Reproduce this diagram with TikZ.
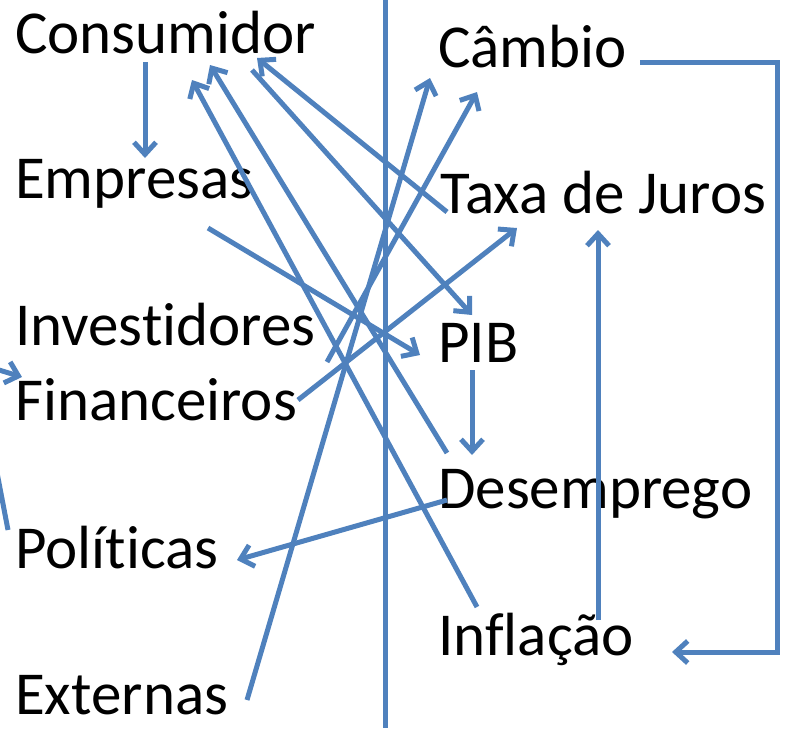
\documentclass[tikz,border=0pt]{standalone}
\usepackage{fontspec}
\setmainfont[Ligatures=NoCommon]{Carlito}
\usepackage{xcolor}
\usepackage{tikz}
\usetikzlibrary{positioning}
\usetikzlibrary{arrows.meta}
\definecolor{linkblue}{RGB}{79,129,189}
\tikzset{edge/.style = {-{Straight Barb[length=12pt,width=22pt]}, linkblue, line width=5pt}}

\begin{document}
\begin{tikzpicture}[x=1pt,y=-1pt,main node/.style={inner sep=0pt,anchor=base west,font=\fontsize{61}{72}\selectfont}]
            \useasboundingbox (0,0) rectangle (789,728);
            \node[main node] (1) at (15,53) {Consumidor};
            \node[main node] (2) at (15,198) {Empresas};
            \node[main node] (3) at (15,345) {Investidores};
            \node[main node] (4) at (15,420) {Financeiros};
            \node[main node] (5) at (15,568) {Políticas};
            \node[main node] (6) at (15,714) {Externas};
            \node[main node] (7) at (438,67) {Câmbio};
            \node[main node] (8) at (440,213) {Taxa de Juros};
            \node[main node] (9) at (438,362) {PIB};
            \node[main node] (10) at (438,508) {Desemprego};
            \node[main node] (11) at (438,655) {Inflação};

            % divisoria
            \coordinate (top) at (385,0);
            \coordinate (bottom) at (385,728);
            \draw[linkblue, line width=5pt] (top) -- (bottom);

            \path[edge] ([shift={(130,9)}]1.base west) edge ([shift={(130,-40)}]2.base west);
            \path[edge] ([shift={(193,30)}]2.base west) edge ([shift={(-18,-7)}]9.base west);
            \path[edge] ([shift={(7,-1)}]8.base west) edge ([shift={(242,5)}]1.base west);
            \path[edge] ([shift={(9,-55)}]10.base west) edge ([shift={(195,12)}]1.base west);
            \path[edge] ([shift={(39,-48)}]11.base west) edge ([shift={(177,27)}]1.base west);
            \path[edge] ([shift={(237,17)}]1.base west) edge ([shift={(34,-47)}]9.base west);
            \path[edge] ([shift={(232,-14)}]6.base west) edge ([shift={(-8,11)}]7.base west);
            \path[edge] ([shift={(312,17)}]3.base west) edge ([shift={(39,25)}]7.base west);
            \path[edge] ([shift={(283,-20)}]4.base west) edge ([shift={(77,15)}]8.base west);
            \path[edge] ([shift={(9,-8)}]10.base west) edge ([shift={(222,-8)}]5.base west);
            \path[edge] ([shift={(34,8)}]9.base west) edge ([shift={(34,-53)}]10.base west);
            \path[edge] ([shift={(160,-35)}]11.base west) edge ([shift={(158,17)}]8.base west);
            \draw[edge] ([shift={(202,-5)}]7.base west) -- ++(137,0) |- ([shift={(234,-3)}]11.base west);

            % sai pela esquerda
            \coordinate (out) at (-24,363);
            \draw[edge] ([shift={(-7,-38)}]5.base west) -- (out) -- ([shift={(7,-43)}]4.base west);
        \end{tikzpicture}
\end{document}
